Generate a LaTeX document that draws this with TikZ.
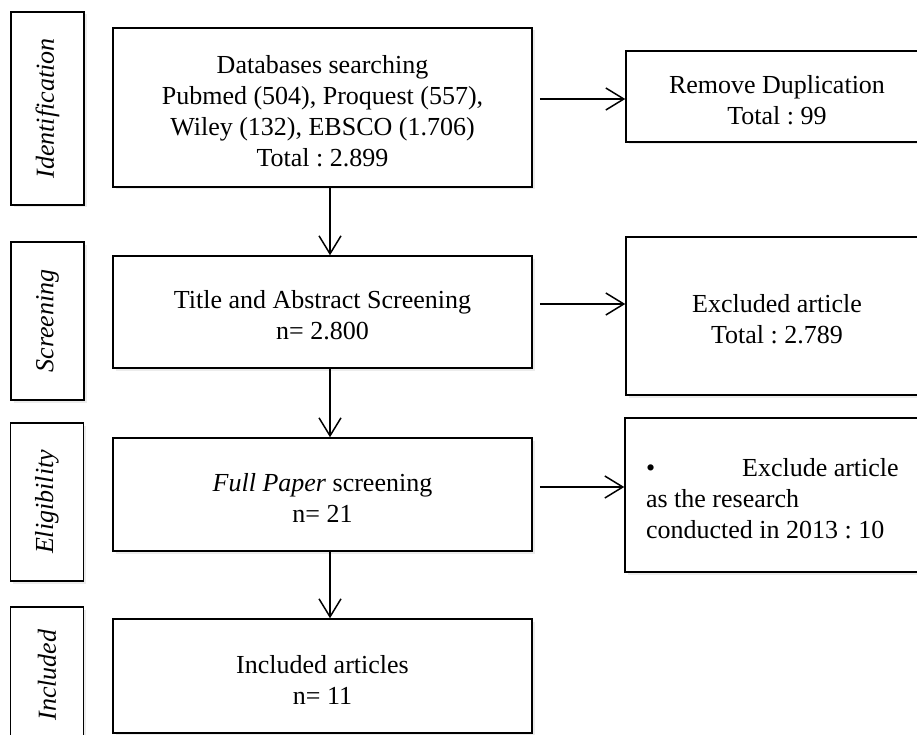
\documentclass[tikz,border=0pt]{standalone}
\usepackage{fontspec}
\setmainfont{Liberation Serif}
\usetikzlibrary{arrows.meta,calc,shadows}
\frenchspacing
\begin{document}
\begin{tikzpicture}[x=1pt,y=-1pt,
  box/.style={draw, line width=1.5pt, fill=white, inner sep=0pt, align=flush center,
    font=\fontsize{26}{31}\selectfont\frenchspacing,
    drop shadow={shadow xshift=2.5pt, shadow yshift=-2.5pt, opacity=0.15}},
  lowtext/.style={execute at begin node={\rule{0pt}{25pt}}},
  stagebox/.style={box, rotate=90, minimum height=73pt, font=\fontsize{26}{31}\selectfont\itshape},
  mainbox/.style={box, lowtext, minimum width=419pt, text width=400pt},
  sidebox/.style={box, lowtext, minimum width=302pt, text width=290pt},
  arr/.style={line width=1.5pt, -{Straight Barb[length=18pt,width=22pt,line width=1.5pt]}}
]
\clip (0,0) rectangle (917,735);
\fill[white] (0,0) rectangle (917,735);

% stage labels
\node[stagebox, minimum width=193pt] (s1) at (47.5,108.5) {Identification};
\node[stagebox, minimum width=158pt] (s2) at (47.5,321) {Screening};
\node[stagebox, minimum width=158pt] (s3) at (47,502) {Eligibility};
\node[stagebox, minimum width=136pt] (s4) at (47,675) {Included};

% main boxes
\node[mainbox, minimum height=159pt] (db) at (322.5,107.5)
  {Databases searching\\Pubmed (504), Proquest (557),\\Wiley (132), EBSCO (1.706)\\Total : 2.899};
\node[mainbox, minimum height=112pt] (ta) at (322.5,312)
  {Title and Abstract Screening\\n= 2.800};
\node[mainbox, minimum height=113pt] (fp) at (322.5,494.5)
  {\textit{Full Paper} screening\\n= 21};
\node[mainbox, minimum height=114pt] (inc) at (322.5,676)
  {Included articles\\n= 11};

% side boxes
\node[sidebox, minimum height=91pt] (rd) at (777,96.5)
  {Remove Duplication\\Total : 99};
\node[sidebox, minimum height=158pt] (ex) at (777,316)
  {Excluded article\\Total : 2.789};
\node[sidebox, minimum height=154pt, text width=260pt, align=flush left] (ex2) at (776,495)
  {\textbullet\hspace{87pt}Exclude article\\as the research\\conducted in 2013 : 10};

% connectors
\coordinate (vx) at (330,0);
\coordinate (r1) at (0,99);
\coordinate (r2) at (0,304);
\coordinate (r3) at (0,487);

\draw[arr] (db.south -| vx) -- (ta.north -| vx);
\draw[arr] (ta.south -| vx) -- (fp.north -| vx);
\draw[arr] (fp.south -| vx) -- (inc.north -| vx);

\draw[arr] ($(db.east |- r1)+(7,0)$) -- (rd.west |- r1);
\draw[arr] ($(ta.east |- r2)+(7,0)$) -- (ex.west |- r2);
\draw[arr] ($(fp.east |- r3)+(7,0)$) -- (ex2.west |- r3);
\end{tikzpicture}
\end{document}
